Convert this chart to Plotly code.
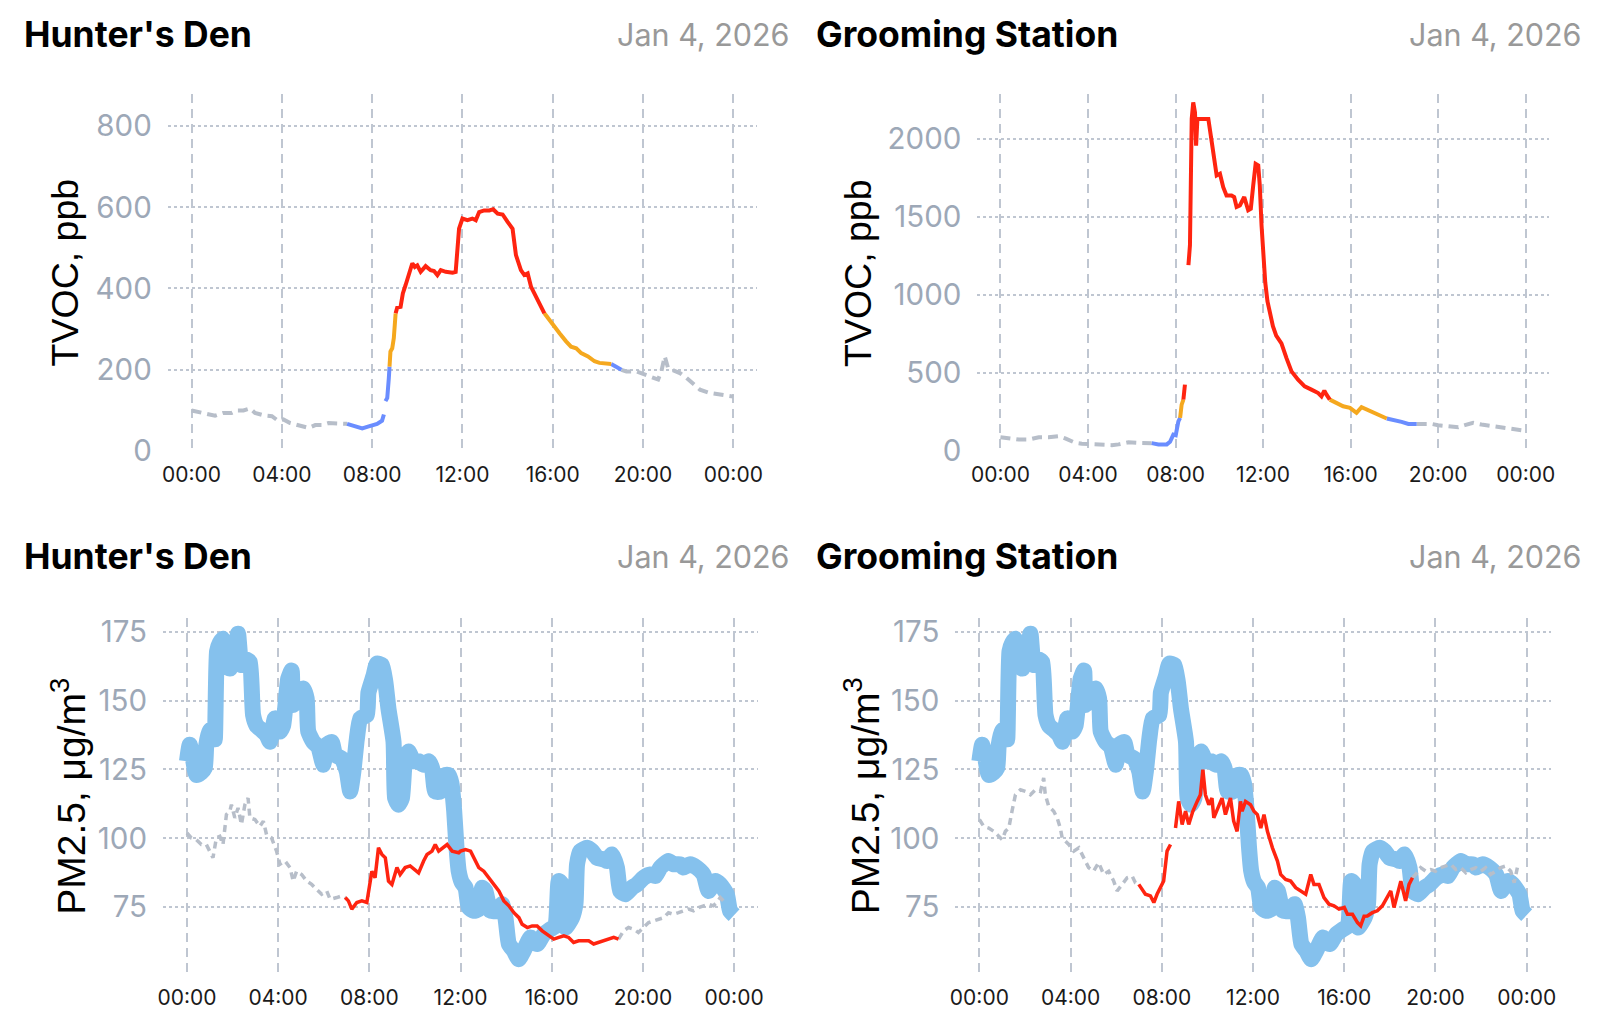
import pandas as pd
import plotly.graph_objects as go

# ---------------- data (hours since 00:00, values) ----------------
DAY = "2026-01-04"
X_TICK_HOURS = [0, 4, 8, 12, 16, 20, 24]

HD_TVOC_T = [0.0, 0.3, 0.74, 1.04, 1.41, 1.78, 2.0, 2.3, 2.59, 2.81, 3.19, 3.56, 3.85, 4.07, 4.37, 4.74,
             5.19, 5.48, 5.78, 6.07, 6.52, 6.89, 7.26, 7.56, 7.85, 8.22, 8.44, 8.52, 8.55, 8.59, 8.67,
             8.74, 8.77, 8.81, 8.89, 8.96, 9.04, 9.11, 9.26, 9.36, 9.48, 9.63, 9.78, 9.89, 10.0, 10.15,
             10.37, 10.59, 10.74, 10.89, 11.04, 11.26, 11.56, 11.70, 11.85, 12.0, 12.22, 12.44, 12.59,
             12.74, 12.96, 13.19, 13.36, 13.56, 13.78, 14.0, 14.22, 14.37, 14.59, 14.74, 14.89, 15.04,
             15.26, 15.48, 15.63, 16.0, 16.3, 16.59, 16.81, 17.04, 17.26, 17.56, 17.85, 18.07, 18.37,
             18.59, 18.81, 19.04, 19.26, 19.7, 20.07, 20.44, 20.67, 20.81, 20.96, 21.11, 21.33, 21.63,
             21.93, 22.22, 22.52, 22.96, 23.41, 24.0]
HD_TVOC_V = [100, 96, 90, 87, 94, 94, 100, 100, 105, 94, 88, 86, 74, 78, 69, 64,
             57, 64, 64, 69, 67, 67, 61, 56, 61, 67, 75, 90, None, 123, 131,
             180, 208, 245, 253, 278, 339, 353, 355, 388, 408, 433, 462, 453, 457, 441,
             455, 445, 443, 433, 445, 441, 439, 441, 547, 572, 568, 572, 568,
             588, 592, 592, 595, 584, 582, 564, 547, 482, 445, 433, 437, 404,
             380, 351, 339, 310, 290, 270, 257, 253, 241, 233, 221, 217, 216,
             214, 208, 200, 196, 196, 188, 180, 176, 196, 233, 204, 200, 192,
             180, 167, 151, 143, 139, 134]

GS_TVOC_T = [0.0, 0.38, 0.84, 1.29, 1.75, 2.2, 2.66, 2.96, 3.42, 3.72, 4.18, 4.64, 5.09, 5.4, 5.85,
             6.31, 6.76, 6.91, 7.22, 7.6, 7.75, 7.9, 8.01, 8.13, 8.21, 8.28, 8.36, 8.43, 8.5, 8.59,
             8.66, 8.74, 8.81, 8.89, 8.94, 9.0, 9.19, 9.5, 9.68, 9.88, 10.03, 10.18, 10.33, 10.56,
             10.68, 10.79, 10.94, 11.14, 11.32, 11.44, 11.55, 11.66, 11.78, 11.85, 11.93, 12.0,
             12.1, 12.2, 12.31, 12.45, 12.6, 12.84, 13.07, 13.3, 13.6, 13.9, 14.21, 14.52, 14.67,
             14.8, 14.9, 15.05, 15.36, 15.66, 15.97, 16.27, 16.5, 16.73, 17.04, 17.34, 17.65,
             17.95, 18.33, 18.64, 19.02, 19.4, 19.7, 20.0, 20.46, 20.92, 21.22, 21.6, 21.98,
             22.44, 22.9, 23.36, 23.9]
GS_TVOC_V = [89, 81, 74, 74, 89, 89, 96, 81, 53, 47, 43, 43, 38, 43, 57,
             53, 51, 51, 43, 43, 60, 106, 102, 191, 213, 298, 330, 426, None, 1191,
             1319, 2128, 2234, 2170, 1957, 2128, 2128, 2128, 1957, 1766, 1777, 1691, 1638, 1638,
             1628, 1564, 1574, 1628, 1543, 1553, 1702, 1840, 1830, 1702, 1447, 1250,
             1080, 960, 880, 800, 740, 690, 596, 511, 457, 415, 394, 372, 351,
             387, 362, 330, 309, 287, 277, 245, 281, 266, 245, 223, 209,
             202, 187, 174, 174, 174, 174, 166, 160, 153, 166, 181, 170,
             160, 149, 145, 132]

OUT_PM_T = [0.0, 0.12, 0.26, 0.41, 0.63, 0.78, 0.85, 1.0, 1.14, 1.22, 1.32, 1.44, 1.58, 1.73, 1.88,
            1.95, 2.1, 2.24, 2.39, 2.61, 2.76, 2.9, 3.05, 3.27, 3.49, 3.64, 3.86, 4.08, 4.22, 4.44,
            4.59, 4.66, 4.88, 5.1, 5.25, 5.32, 5.54, 5.76, 5.98, 6.13, 6.35, 6.5, 6.79, 7.01, 7.16,
            7.3, 7.45, 7.6, 7.89, 7.96, 8.18, 8.33, 8.55, 8.7, 8.84, 9.06, 9.13, 9.28, 9.43, 9.57,
            9.72, 9.94, 10.16, 10.38, 10.6, 10.75, 10.89, 11.11, 11.33, 11.48, 11.6, 11.72, 11.82,
            11.92, 12.05, 12.22, 12.36, 12.58, 12.8, 12.95, 13.09, 13.31, 13.6, 13.82, 13.97,
            14.12, 14.34, 14.55, 14.77, 15.07, 15.36, 15.65, 15.94, 16.16, 16.31, 16.45, 16.6,
            16.89, 17.04, 17.11, 17.26, 17.55, 17.77, 17.99, 18.28, 18.42, 18.64, 18.86, 19.0,
            19.23, 19.52, 19.74, 20.03, 20.32, 20.54, 20.76, 21.12, 21.34, 21.64, 21.78, 22.07,
            22.36, 22.66, 22.88, 23.17, 23.39, 23.68, 23.82, 24.0]
OUT_PM_V = [128, 134, 129, 123, 124, 125.5, 134, 139, 140, 136, 168, 171, 172.6, 169, 161.7,
            171, 168, 174.4, 163, 165, 164, 144.8, 141, 139.4, 137.6, 135.1, 143.6, 138.8, 141, 158,
            161, 148.4, 150.8, 154.5, 150.8, 138.8, 135, 133.3, 126.7, 134, 135, 130.3, 129, 124.3, 117,
            124.3, 136, 143.6, 144.8, 153, 159, 163.5, 163, 157, 147, 135.1, 114.6, 112.2, 114.6, 129,
            131.5, 128, 128, 126.7, 128, 125.5, 117, 117, 123, 123, 120, 110, 97,
            88, 84, 82, 74.8, 73.6, 74.2, 82, 80.8, 73.6, 73.6, 76, 71.1,
            61.5, 59, 56, 59, 63.9, 61.5, 65.1, 66.9, 68.1, 84.4, 83.2, 67.5,
            71.1, 76, 90.5, 95.3, 96.5, 95.3, 92.9, 92.3, 91.7, 94.1, 89.3, 80.8,
            79.6, 82, 83.2, 85.6, 86.8, 86.2, 89.3, 91.7, 90.5, 90.5, 89.3, 90.5,
            89.3, 86.8, 80.8, 84.4, 83.2, 79.6, 73.6, 72]

HD_PM_T = [0.0, 0.19, 0.41, 0.63, 0.85, 1.0, 1.14, 1.29, 1.44, 1.58, 1.73, 1.88, 1.95, 2.1, 2.24,
           2.39, 2.54, 2.68, 2.76, 2.98, 3.2, 3.35, 3.49, 3.71, 3.93, 4.08, 4.3, 4.52, 4.66, 4.81,
           5.03, 5.25, 5.47, 5.69, 5.91, 6.13, 6.28, 6.57, 6.79, 6.94, 7.08, 7.23, 7.45, 7.67,
           7.89, 8.11, 8.25, 8.4, 8.55, 8.7, 8.84, 8.99, 9.21, 9.35, 9.57, 9.79, 10.01, 10.16,
           10.38, 10.53, 10.75, 10.89, 11.04, 11.26, 11.41, 11.63, 11.92, 12.0, 12.22, 12.44,
           12.58, 12.8, 13.02, 13.24, 13.46, 13.68, 13.9, 14.12, 14.34, 14.56, 14.7, 14.93,
           15.14, 15.36, 15.58, 15.8, 16.09, 16.31, 16.53, 16.74, 16.96, 17.18, 17.4, 17.62,
           17.84, 18.06, 18.28, 18.5, 18.72, 18.93, 19.15, 19.37, 19.59, 19.8, 20.03, 20.25,
           20.47, 20.69, 20.91, 21.12, 21.34, 21.56, 21.78, 22.0, 22.22, 22.44, 22.66, 22.88,
           23.09, 23.24, 23.39, 23.53, 23.68]
HD_PM_V = [101.9, 100.1, 99.5, 97.7, 97.7, 95.3, 92.9, 100.1, 100.7, 97.7, 108.6, 109.8, 112.2, 107.4, 111,
           105, 112.2, 114.6, 107.4, 106.8, 104.3, 106.2, 101.3, 100.1, 95.3, 90.5, 91.7, 89.3, 84.4, 88,
           86.8, 84.4, 83.2, 81.4, 79.6, 80.8, 77.8, 78.4, 79, 78.4, 77.2, 74.2, 76.6, 77.2,
           76.6, 88, 85.6, 96.5, 94.1, 92.9, 84.4, 83.2, 89.3, 86.8, 89.3, 89.9, 88.6, 87.4,
           91.7, 94.1, 95.3, 97.7, 95.3, 96.5, 97.7, 95.3, 94.7, 95.3, 95.9, 95.3,
           92.9, 89.3, 88, 85.6, 83.2, 80.8, 77.2, 75.4, 72.9, 71.1, 68.7, 67.5,
           68.1, 68.1, 66.3, 65.1, 63.3, 63.9, 64.5, 63.9, 62.1, 62.7, 62.7, 62.7,
           61.5, 62.1, 62.7, 63.3, 63.9, 63.3, 66.3, 67.5, 66.9, 65.7, 67.5, 69.3,
           69.9, 70.5, 71.1, 72.9, 72.3, 72.9, 73.6, 74.2, 73.6, 74.8, 75.4, 76,
           75.4, 76.6, 78.4, 77.2, 77.8]

GS_PM_T = [0.0, 0.19, 0.41, 0.63, 0.85, 1.0, 1.14, 1.29, 1.43, 1.58, 1.8, 2.02, 2.24, 2.46, 2.68,
           2.82, 2.89, 3.04, 3.26, 3.41, 3.55, 3.63, 3.92, 4.14, 4.36, 4.58, 4.79, 5.01, 5.23,
           5.45, 5.67, 5.89, 6.04, 6.26, 6.48, 6.7, 6.84, 6.99, 7.13, 7.28, 7.5, 7.65, 7.79,
           7.94, 8.08, 8.23, 8.38, 8.5, 8.6, 8.74, 8.89, 9.04, 9.18, 9.36, 9.55, 9.69, 9.8, 9.91,
           10.06, 10.2, 10.28, 10.5, 10.64, 10.79, 10.94, 11.01, 11.15, 11.3, 11.45, 11.52,
           11.67, 11.89, 12.04, 12.19, 12.34, 12.48, 12.63, 12.85, 13.07, 13.21, 13.43, 13.65,
           13.87, 14.09, 14.31, 14.53, 14.67, 14.89, 15.11, 15.33, 15.55, 15.77, 16.0, 16.14,
           16.36, 16.58, 16.72, 16.87, 17.01, 17.23, 17.45, 17.67, 17.89, 18.04, 18.18, 18.33,
           18.48, 18.69, 18.84, 18.99, 19.13, 19.35, 19.57, 19.79, 20.0, 20.23, 20.45, 20.67,
           20.89, 21.11, 21.33, 21.55, 21.77, 21.99, 22.2, 22.42, 22.64, 22.86, 23.08, 23.3,
           23.45, 23.59]
GS_PM_V = [106.8, 104.3, 103.7, 102.5, 100.7, 99.5, 102.5, 103.7, 109.8, 115.8, 117.6, 117, 115.8, 117.6, 117,
           121.9, 115.8, 111.6, 109.8, 107.4, 103.7, 100.1, 97.7, 95.3, 96.5, 92.9, 89.3, 88, 91.1,
           86.8, 88, 84.4, 80.8, 83.2, 85.6, 86.2, 83.8, 83.2, 81.4, 79.6, 79, 76.6, 79.6,
           82, 84.4, 95.3, 97.7, None, 103.7, 113.4, 105, 109.8, 105, 109.8, 113.4, 115.8, 124.9, 115.8,
           112.2, 114.6, 107.4, 112.2, 114.6, 108.6, 112.2, 114.6, 106.2, 102.5, 113.4, 109.8,
           113.4, 112.2, 109.8, 108.6, 103.7, 108.6, 102.5, 96.5, 91.7, 86.8, 85, 84.4,
           82, 80.8, 79.6, 86.8, 83.2, 83.2, 78.4, 76, 75.4, 74.2, 74.8, 72.3,
           72.3, 69.3, 68.1, 71.6, 71.7, 72.9, 73.6, 75.4, 78.4, 80.8, 74.8, 79.6,
           84.4, 77.2, 83.2, 85.6, 86.8, 89.3, 88, 88.6, 88, 89.3, 89.9, 90.5,
           88.6, 89.3, 87.4, 88.6, 89.3, 88, 89.3, 86.8, 88, 89.3, 89.9, 88,
           83.8, 89.3]

# active (occupied) window and level thresholds
ACTIVE_START, ACTIVE_END = 6.92, 19.0
TVOC_LEVELS = [215, 335]
PM_LEVELS = [12, 35]

# ---------------- styling ----------------
C_LOW, C_MID, C_HIGH = "#6A8DFF", "#F5A81E", "#FF2410"
C_IDLE = "#B7BEC9"
C_OUT = "#85C1ED"
GRID = "#BFC6D1"
TICK_Y = "#9DA8B7"
TITLE_FONT = "Inter"
AXIS_TITLE_FONT = "Liberation Sans"

# page body has an 8px margin; size the figure so the page is exactly 1621x1018
OFF = 8
W, H = 1621 - 2 * OFF, 1018 - 2 * OFF
PAD_L, PAD_R = 1.05, 25.06
# small calibration of target page pixels -> figure pixels
SX, BX = 1.0083, -6.4
SY, BY = 1.0267, -3.1


def px(x):
    return (SX * x + BX - OFF) / W


def py(y):
    return 1 - (SY * y + BY - OFF) / H


panels = [
    dict(x=(168, 757), y=(93.3, 451.7), yr=[0, 878], dtick=200),
    dict(x=(977, 1548), y=(93.3, 451.7), yr=[0, 2287], dtick=500),
    dict(x=(163.2, 758), y=(619.3, 976.7), yr=[50.6, 180.1], dtick=25),
    dict(x=(955, 1550), y=(619.3, 976.7), yr=[50.6, 180.1], dtick=25),
]


def to_time(hours):
    base = pd.Timestamp(DAY)
    return [None if h is None else base + pd.Timedelta(hours=h) for h in hours]


def split_levels(t, v, levels):
    cats = []
    for i in range(len(t) - 1):
        if v[i] is None or v[i + 1] is None:
            cats.append(None)
            continue
        tm = (t[i] + t[i + 1]) / 2
        if tm < ACTIVE_START or tm > ACTIVE_END:
            cats.append("idle")
        else:
            vm = (v[i] + v[i + 1]) / 2
            cats.append("low" if vm < levels[0] else ("mid" if vm < levels[1] else "high"))
    out = {k: ([], []) for k in ["idle", "low", "mid", "high"]}
    i = 0
    while i < len(cats):
        c = cats[i]
        j = i
        while j + 1 < len(cats) and cats[j + 1] == c:
            j += 1
        if c is not None:
            xs, ys = out[c]
            xs.extend(t[i:j + 2] + [None])
            ys.extend(v[i:j + 2] + [None])
        i = j + 1
    return out


fig = go.Figure()

COLORS = {"idle": C_IDLE, "low": C_LOW, "mid": C_MID, "high": C_HIGH}


def add_sensor(t, v, levels, ax, width, idle_dash):
    segs = split_levels(t, v, levels)
    for k in ["idle", "low", "mid", "high"]:
        xs, ys = segs[k]
        if not xs:
            continue
        line = dict(width=width, color=COLORS[k])
        if k == "idle":
            line["dash"] = idle_dash
        fig.add_trace(go.Scatter(x=to_time(xs), y=ys, mode="lines", line=line,
                                 xaxis="x" + ax, yaxis="y" + ax,
                                 showlegend=False, hoverinfo="skip", connectgaps=False))


# outdoor PM2.5 (thick band, drawn first)
for ax in ["3", "4"]:
    fig.add_trace(go.Scatter(x=to_time(OUT_PM_T), y=OUT_PM_V, mode="lines",
                             line=dict(color=C_OUT, width=16, shape="spline", smoothing=0.5),
                             xaxis="x" + ax, yaxis="y" + ax,
                             showlegend=False, hoverinfo="skip"))

add_sensor(HD_TVOC_T, HD_TVOC_V, TVOC_LEVELS, "", 4, "10px,6px")
add_sensor(GS_TVOC_T, GS_TVOC_V, TVOC_LEVELS, "2", 4, "10px,6px")
add_sensor(HD_PM_T, HD_PM_V, PM_LEVELS, "3", 3.5, "7px,5px")
add_sensor(GS_PM_T, GS_PM_V, PM_LEVELS, "4", 3.5, "7px,5px")

base = pd.Timestamp(DAY)
xrange_ = [base - pd.Timedelta(hours=PAD_L), base + pd.Timedelta(hours=PAD_R)]
tickvals = to_time(X_TICK_HOURS)
ticktext = [f"{h % 24:02d}:00" for h in X_TICK_HOURS]

layout = dict(width=W, height=H, margin=dict(l=0, r=0, t=0, b=0),
              paper_bgcolor="white", plot_bgcolor="white", autosize=False,
              font=dict(family=TITLE_FONT, color="#222"))

names = ["", "2", "3", "4"]
for p, n in zip(panels, names):
    layout["xaxis" + n] = dict(domain=[px(p["x"][0]), px(p["x"][1])], anchor="y" + n,
                               type="date", range=xrange_,
                               tickmode="array", tickvals=tickvals, ticktext=ticktext,
                               showgrid=True, gridcolor=GRID, gridwidth=1.5, griddash="9px,6px",
                               zeroline=False, showline=False, ticks="",
                               tickfont=dict(family=TITLE_FONT, size=21, color="#1a1a1a"),
                               ticklabelstandoff=9, fixedrange=True)
    layout["yaxis" + n] = dict(domain=[py(p["y"][1]), py(p["y"][0])], anchor="x" + n,
                               range=p["yr"], tickmode="linear", dtick=p["dtick"], tick0=0,
                               showgrid=True, gridcolor=GRID, gridwidth=2, griddash="dot",
                               zeroline=False, showline=False, ticks="",
                               tickfont=dict(family=TITLE_FONT, size=29.5, color=TICK_Y),
                               ticklabelstandoff=15, fixedrange=True)

fig.update_layout(**layout)

TITLES = ["Hunter's Den", "Grooming Station", "Hunter's Den", "Grooming Station"]
DATE_LABEL = "Jan 4, 2026"
AXIS_TITLES = ["TVOC, ppb", "TVOC, ppb", "PM2.5, μg/m<sup>3</sup>", "PM2.5, μg/m<sup>3</sup>"]
AXIS_TITLE_SIZES = [37.5, 37.5, 39, 39]
title_pos = [(21.8, 792, 33.5), (813.7, 1582.6, 33.5), (21.8, 792, 558), (813.7, 1582.6, 558)]
axis_title_x = [65, 857, 68, 861]

for i, p in enumerate(panels):
    lx, rx, ty = title_pos[i]
    fig.add_annotation(x=px(lx), y=py(ty), xref="paper", yref="paper", xanchor="left",
                       yanchor="middle", showarrow=False, text=f"<b>{TITLES[i]}</b>",
                       font=dict(family=TITLE_FONT, size=35.5, color="#000"))
    fig.add_annotation(x=px(rx), y=py(ty), xref="paper", yref="paper", xanchor="right",
                       yanchor="middle", showarrow=False, text=DATE_LABEL,
                       font=dict(family=TITLE_FONT, size=30.5, color="#999999"))
    yc = py((p["y"][0] + p["y"][1]) / 2)
    fig.add_annotation(x=px(axis_title_x[i]), y=yc, xref="paper", yref="paper",
                       xanchor="center", yanchor="middle", showarrow=False, textangle=-90,
                       text=AXIS_TITLES[i],
                       font=dict(family=AXIS_TITLE_FONT, size=AXIS_TITLE_SIZES[i], color="#000"))

fig.write_html("out.html")
